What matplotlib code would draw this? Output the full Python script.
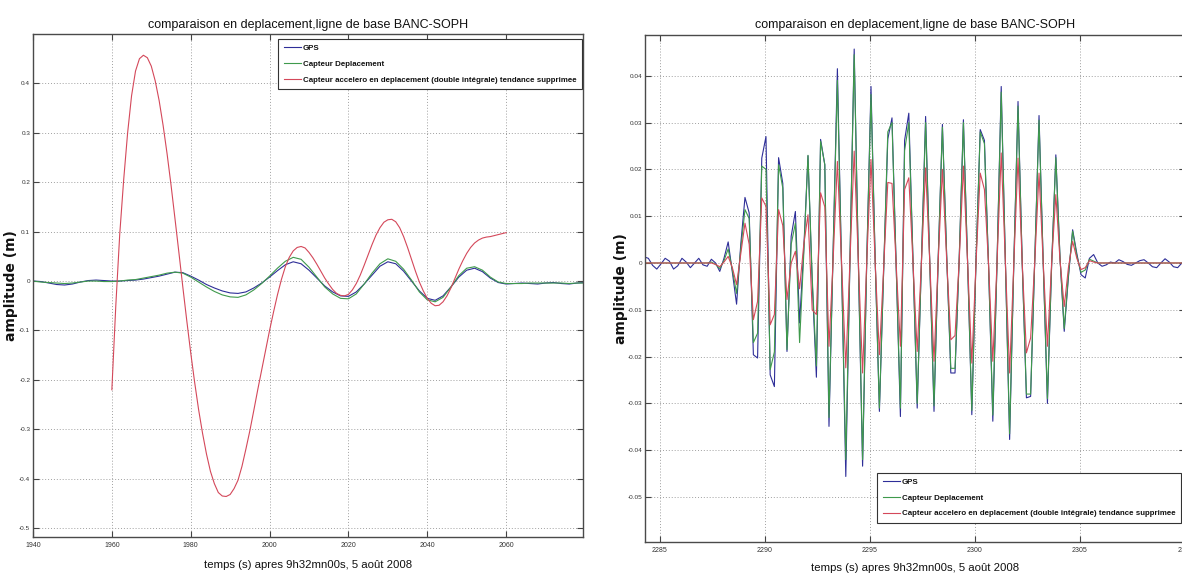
import numpy as np
import matplotlib
matplotlib.use("Agg")
import matplotlib.pyplot as plt
from matplotlib.font_manager import FontProperties

# ---------------- left panel : displacement over the whole record ----------------
left_t = np.arange(1940, 2081, 2)  # s
left_gps = [
    0.000, -0.001, -0.004, -0.007, -0.008, -0.006, -0.002, 0.001, 0.002, 0.001,
    0.000, 0.000, 0.001, 0.002, 0.004, 0.007, 0.010, 0.014, 0.018, 0.017,
    0.010, 0.002, -0.007, -0.014, -0.020, -0.024, -0.025, -0.022, -0.014, -0.004,
    0.008, 0.021, 0.033, 0.039, 0.035, 0.022, 0.006, -0.010, -0.022, -0.030,
    -0.031, -0.022, -0.006, 0.012, 0.030, 0.039, 0.035, 0.020, 0.000, -0.020,
    -0.035, -0.039, -0.030, -0.012, 0.008, 0.022, 0.026, 0.019, 0.006, -0.003,
    -0.006, -0.005, -0.004, -0.005, -0.006, -0.004, -0.003, -0.005, -0.006, -0.004,
    -0.003,
]
left_cap = [
    0.000, -0.002, -0.003, -0.004, -0.005, -0.004, -0.002, 0.000, 0.000, -0.001,
    -0.001, 0.000, 0.002, 0.003, 0.006, 0.009, 0.012, 0.016, 0.018, 0.016,
    0.008, -0.002, -0.012, -0.021, -0.028, -0.032, -0.033, -0.028, -0.018, -0.005,
    0.010, 0.026, 0.040, 0.048, 0.044, 0.028, 0.008, -0.012, -0.026, -0.035,
    -0.036, -0.026, -0.006, 0.016, 0.035, 0.045, 0.040, 0.024, 0.002, -0.022,
    -0.038, -0.042, -0.033, -0.012, 0.011, 0.026, 0.029, 0.022, 0.008, -0.002,
    -0.005, -0.005, -0.005, -0.004, -0.004, -0.004, -0.004, -0.004, -0.005, -0.004,
    -0.004,
]
left_acc_t = np.arange(1960, 2061, 1)  # s
left_acc = [
    -0.220, -0.050, 0.095, 0.205, 0.300, 0.375, 0.425, 0.450, 0.457, 0.452,
    0.435, 0.405, 0.365, 0.315, 0.258, 0.195, 0.127, 0.058, -0.012, -0.080,
    -0.145, -0.205, -0.260, -0.308, -0.350, -0.385, -0.410, -0.428, -0.435, -0.436,
    -0.432, -0.420, -0.403, -0.375, -0.340, -0.303, -0.262, -0.220, -0.180, -0.140,
    -0.100, -0.063, -0.028, 0.003, 0.029, 0.048, 0.061, 0.068, 0.070, 0.067,
    0.058, 0.047, 0.034, 0.020, 0.006, -0.006, -0.017, -0.025, -0.029, -0.030,
    -0.027, -0.018, -0.005, 0.012, 0.032, 0.053, 0.074, 0.093, 0.108, 0.119,
    0.124, 0.125, 0.120, 0.108, 0.090, 0.068, 0.044, 0.020, -0.002, -0.020,
    -0.035, -0.045, -0.050, -0.049, -0.042, -0.030, -0.014, 0.005, 0.024, 0.041,
    0.056, 0.068, 0.077, 0.083, 0.087, 0.089, 0.090, 0.092, 0.094, 0.096,
    0.098,
]
left_xticks = [1940, 1960, 1980, 2000, 2020, 2040, 2060]
left_yticks = [-0.5, -0.4, -0.3, -0.2, -0.1, 0.0, 0.1, 0.2, 0.3, 0.4]
left_yticklabels = ["-0.5", "-0.4", "-0.3", "-0.2", "-0.1", "0", "0.1", "0.2", "0.3", "0.4"]

# ---------------- right panel : zoom on the shaking, 5 Hz samples ----------------
right_t = 2284.25 + 0.2 * np.arange(129)  # s
right_gps = [
    0.0013, 0.0010, -0.0005, -0.0013, -0.0002, 0.0010, 0.0004, -0.0013, -0.0006, 0.0010,
    0.0002, -0.0010, 0.0000, 0.0010, -0.0004, -0.0007, 0.0008, 0.0000, -0.0018, 0.0010,
    0.0045, -0.0020, -0.0088, 0.0040, 0.0140, 0.0107, -0.0196, -0.0203, 0.0224, 0.0270,
    -0.0239, -0.0264, 0.0225, 0.0170, -0.0189, 0.0057, 0.0110, -0.0128, 0.0030, 0.0229,
    -0.0040, -0.0244, 0.0264, 0.0210, -0.0349, 0.0030, 0.0415, -0.0010, -0.0456, 0.0010,
    0.0457, -0.0005, -0.0434, 0.0010, 0.0377, 0.0005, -0.0317, -0.0020, 0.0265, 0.0310,
    -0.0010, -0.0328, 0.0262, 0.0320, 0.0005, -0.0310, 0.0000, 0.0313, 0.0000, -0.0317,
    0.0010, 0.0296, 0.0020, -0.0235, -0.0235, 0.0010, 0.0306, 0.0000, -0.0324, 0.0005,
    0.0285, 0.0262, -0.0010, -0.0338, 0.0000, 0.0377, 0.0000, -0.0377, 0.0000, 0.0345,
    0.0000, -0.0288, -0.0285, 0.0010, 0.0315, 0.0000, -0.0300, -0.0005, 0.0231, 0.0010,
    -0.0146, -0.0030, 0.0071, 0.0020, -0.0025, -0.0032, 0.0010, 0.0018, 0.0000, -0.0007,
    -0.0004, 0.0002, 0.0000, 0.0007, 0.0003, -0.0003, -0.0005, 0.0000, 0.0005, 0.0007,
    0.0000, -0.0008, -0.0010, 0.0000, 0.0009, 0.0002, -0.0008, -0.0010, 0.0000,
]
right_cap = [
    0.0000, 0.0000, 0.0000, 0.0000, 0.0000, 0.0000, 0.0000, 0.0000, 0.0000, 0.0000,
    0.0000, 0.0000, 0.0000, 0.0000, 0.0000, 0.0000, 0.0002, -0.0003, -0.0012, 0.0005,
    0.0030, -0.0015, -0.0065, 0.0030, 0.0114, 0.0095, -0.0170, -0.0150, 0.0207, 0.0200,
    -0.0228, -0.0190, 0.0210, 0.0160, -0.0185, 0.0040, 0.0085, -0.0170, 0.0020, 0.0230,
    -0.0030, -0.0220, 0.0260, 0.0210, -0.0330, 0.0030, 0.0390, -0.0010, -0.0420, 0.0010,
    0.0445, 0.0000, -0.0420, 0.0010, 0.0360, 0.0005, -0.0310, -0.0020, 0.0280, 0.0300,
    -0.0010, -0.0310, 0.0240, 0.0300, 0.0005, -0.0300, 0.0000, 0.0300, 0.0000, -0.0305,
    0.0010, 0.0290, 0.0020, -0.0225, -0.0225, 0.0010, 0.0300, 0.0000, -0.0315, 0.0005,
    0.0280, 0.0255, -0.0010, -0.0325, 0.0000, 0.0365, 0.0000, -0.0365, 0.0000, 0.0335,
    0.0000, -0.0280, -0.0280, 0.0010, 0.0305, 0.0000, -0.0290, -0.0005, 0.0225, 0.0010,
    -0.0140, -0.0025, 0.0068, 0.0015, -0.0020, -0.0015, 0.0008, 0.0004, 0.0000, 0.0000,
    0.0000, 0.0000, 0.0000, 0.0000, 0.0000, 0.0000, 0.0000, 0.0000, 0.0000, 0.0000,
    0.0000, 0.0000, 0.0000, 0.0000, 0.0000, 0.0000, 0.0000, 0.0000, 0.0000,
]
right_acc = [
    0.0000, 0.0000, 0.0000, 0.0000, 0.0000, 0.0000, 0.0000, 0.0000, 0.0000, 0.0000,
    0.0000, 0.0000, 0.0000, 0.0000, 0.0000, 0.0000, 0.0000, -0.0003, -0.0008, 0.0002,
    0.0014, -0.0010, -0.0046, 0.0020, 0.0085, 0.0040, -0.0121, -0.0082, 0.0139, 0.0121,
    -0.0132, -0.0110, 0.0114, 0.0080, -0.0078, 0.0000, 0.0025, -0.0055, 0.0040, 0.0103,
    -0.0100, -0.0110, 0.0150, 0.0120, -0.0178, 0.0010, 0.0217, 0.0000, -0.0224, 0.0005,
    0.0239, 0.0000, -0.0235, 0.0005, 0.0221, 0.0000, -0.0196, -0.0010, 0.0172, 0.0170,
    -0.0005, -0.0178, 0.0157, 0.0182, 0.0000, -0.0189, 0.0000, 0.0203, 0.0000, -0.0210,
    0.0005, 0.0200, 0.0010, -0.0164, -0.0155, 0.0005, 0.0207, 0.0000, -0.0214, 0.0000,
    0.0192, 0.0157, -0.0005, -0.0210, 0.0000, 0.0235, 0.0000, -0.0235, 0.0000, 0.0224,
    0.0000, -0.0192, -0.0160, 0.0005, 0.0192, 0.0000, -0.0178, 0.0000, 0.0146, 0.0005,
    -0.0093, -0.0010, 0.0046, 0.0010, -0.0014, -0.0010, 0.0005, 0.0002, 0.0000, 0.0000,
    0.0000, 0.0000, 0.0000, 0.0000, 0.0000, 0.0000, 0.0000, 0.0000, 0.0000, 0.0000,
    0.0000, 0.0000, 0.0000, 0.0000, 0.0000, 0.0000, 0.0000, 0.0000, 0.0000,
]
right_xticks = [2285, 2290, 2295, 2300, 2305, 2310]
right_yticks = [-0.05, -0.04, -0.03, -0.02, -0.01, 0.0, 0.01, 0.02, 0.03, 0.04]
right_yticklabels = ["-0.05", "-0.04", "-0.03", "-0.02", "-0.01", "0", "0.01", "0.02", "0.03", "0.04"]

series_names = [
    "GPS",
    "Capteur Deplacement",
    "Capteur accelero en deplacement (double intégrale) tendance supprimee",
]
title_text = "comparaison en deplacement,ligne de base BANC-SOPH"
xlabel_text = "temps (s) apres 9h32mn00s, 5 août 2008"
ylabel_text = "amplitude (m)"

C_GPS = "#2e2e98"
C_CAP = "#3f9a4c"
C_ACC = "#d4485a"

FN = FontProperties(family="Liberation Sans")
FB = FontProperties(family="Liberation Sans", weight="bold")
FY = FontProperties(family="DejaVu Sans", weight="bold", size=10)


def sized(fp, size):
    g = fp.copy()
    g.set_size(size)
    return g


W, H = 1182, 573
fig = plt.figure(figsize=(W / 100, H / 100), dpi=100)


def px_axes(x0, x1, ytop, ybot):
    return fig.add_axes([x0 / W, (H - ybot) / H, (x1 - x0) / W, (ybot - ytop) / H])


def style(ax, xticks, yticks, yticklabels, xlim, ylim):
    ax.set_xlim(*xlim)
    ax.set_ylim(*ylim)
    ax.set_xticks(xticks)
    ax.set_xticklabels([str(v) for v in xticks], fontproperties=sized(FN, 5))
    ax.set_yticks(yticks)
    ax.set_yticklabels(yticklabels, fontproperties=sized(FN, 4.6))
    ax.tick_params(direction="in", length=4, width=0.8, color="#444444",
                   labelcolor="#333333", top=True, right=True)
    ax.tick_params(axis="x", pad=3.5)
    ax.tick_params(axis="y", pad=2)
    ax.grid(True, color="#a0a0a0", linestyle=(0, (1, 2)), linewidth=0.7)
    for s in ax.spines.values():
        s.set_color("#4a4a4a")
        s.set_linewidth(1.0)


def legend(ax, loc, anchor):
    leg = ax.legend(loc=loc, bbox_to_anchor=anchor, bbox_transform=fig.transFigure,
                    prop=sized(FB, 5.7), frameon=True, fancybox=False, framealpha=1,
                    edgecolor="#333333", borderaxespad=0, handlelength=2.2,
                    handletextpad=0.2, labelspacing=1.05, borderpad=0.7)
    leg.get_frame().set_linewidth(0.8)
    for txt in leg.get_texts():
        txt.set_color("#111111")
    return leg


def labels(ax, title_y, xlabel_y, ylabel_x):
    ax.set_title(title_text, fontproperties=sized(FN, 9), y=title_y, pad=0,
                 va="baseline", color="#111111")
    ax.set_xlabel(xlabel_text, fontproperties=sized(FN, 8.2), color="#111111")
    ax.xaxis.set_label_coords(0.5, xlabel_y)
    ax.xaxis.label.set_va("baseline")
    ax.set_ylabel(ylabel_text, fontproperties=FY, color="#111111")
    ax.yaxis.set_label_coords(ylabel_x, 0.5)
    ax.yaxis.label.set_va("center")


# left panel
ax1 = px_axes(33, 583, 34, 537)
ax1.plot(left_t, left_gps, color=C_GPS, lw=0.8, label=series_names[0])
ax1.plot(left_t, left_cap, color=C_CAP, lw=0.8, label=series_names[1])
ax1.plot(left_acc_t, left_acc, color=C_ACC, lw=0.8, label=series_names[2])
style(ax1, left_xticks, left_yticks, left_yticklabels, (1940, 2079.5), (-0.518, 0.5))
labels(ax1, 1.0125, -0.0616, -0.040)
legend(ax1, "upper right", (582 / W, (H - 39) / H))

# right panel
ax2 = px_axes(645, 1185, 35, 542)
ax2.plot(right_t, right_gps, color=C_GPS, lw=0.8, label=series_names[0])
ax2.plot(right_t, right_cap, color=C_CAP, lw=0.8, label=series_names[1])
ax2.plot(right_t, right_acc, color=C_ACC, lw=0.8, label=series_names[2])
style(ax2, right_xticks, right_yticks, right_yticklabels, (2284.29, 2310), (-0.0596, 0.0487))
labels(ax2, 1.013, -0.0566, -0.044)
legend(ax2, "lower right", (1181 / W, (H - 523) / H))

fig.savefig("out.png", dpi=100)
